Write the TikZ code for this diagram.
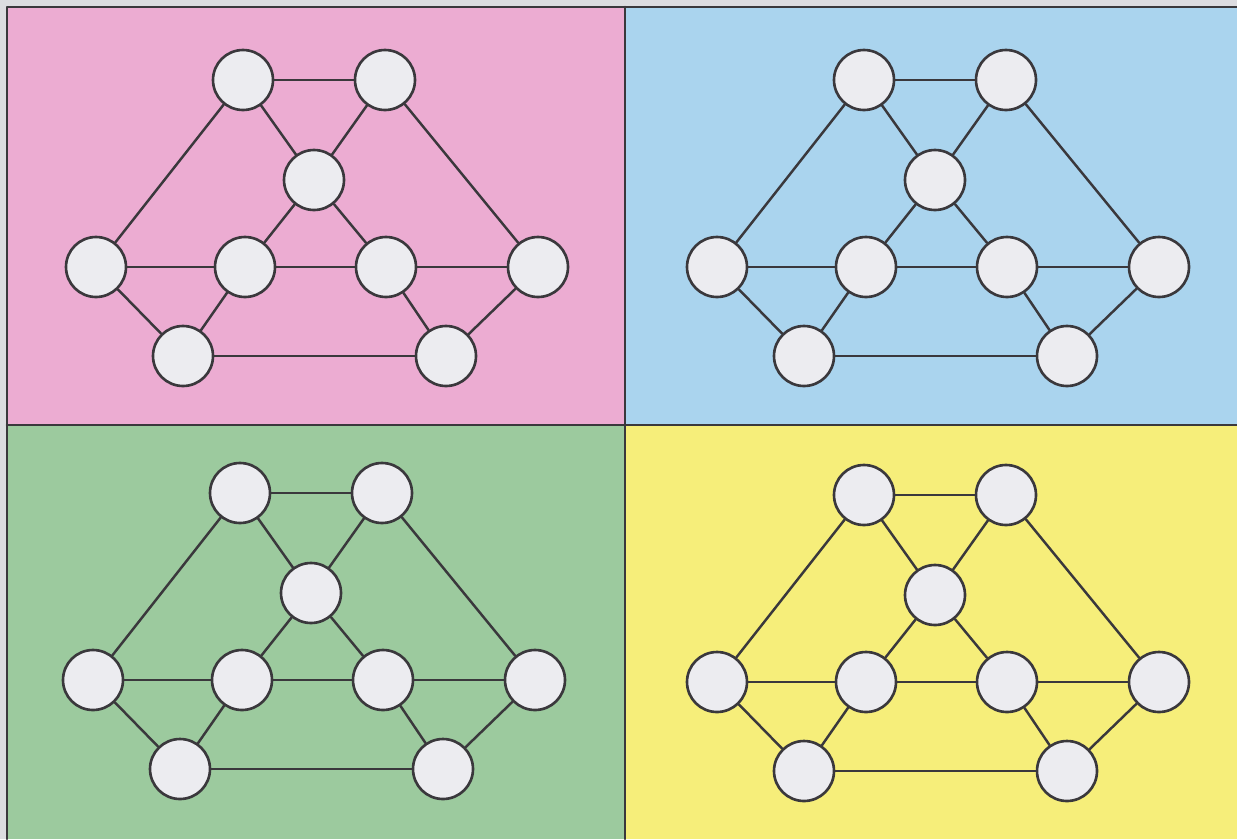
\documentclass[tikz,border=0pt]{standalone}
\usetikzlibrary{positioning}

\definecolor{panelpink}{RGB}{236,172,210}
\definecolor{panelblue}{RGB}{170,212,238}
\definecolor{panelgreen}{RGB}{156,202,158}
\definecolor{panelyellow}{RGB}{246,238,122}
\definecolor{margingrey}{RGB}{220,220,224}
\definecolor{inkgrey}{RGB}{58,56,60}
\definecolor{discfill}{RGB}{236,236,240}

\tikzset{
  disc/.style={circle, draw=inkgrey, line width=1.5pt, fill=discfill, minimum size=1.2cm, inner sep=0pt},
  link/.style={draw=inkgrey, line width=1.4pt},
  frame/.style={draw=inkgrey, line width=1.5pt}
}

\begin{document}
\begin{tikzpicture}[x=0.02cm, y=-0.02cm, line cap=round, line join=round]
  \useasboundingbox (0,0) rectangle (1237,839);
  \fill[margingrey] (0,0) rectangle (1237,839);

  % four coloured panels
  \fill[panelpink] (7,7) rectangle (625,425);
  \fill[panelblue] (625,7) rectangle (1237,425);
  \fill[panelgreen] (7,425) rectangle (625,839);
  \fill[panelyellow] (625,425) rectangle (1237,839);
  \draw[frame] (7,839) -- (7,7) -- (1237,7);
  \draw[frame] (625,7) -- (625,839);
  \draw[frame] (7,425) -- (1237,425);

  % the same graph in every panel
  \foreach \dx/\dy in {0/0, 621/0, -3/413, 621/415} {
    \begin{scope}[shift={(\dx,\dy)}]
      \node[disc] (a) at (243,80) {};
      \node[disc] (b) at (385,80) {};
      \node[disc] (c) at (314,180) {};
      \node[disc] (d) at (96,267) {};
      \node[disc] (e) at (245,267) {};
      \node[disc] (f) at (386,267) {};
      \node[disc] (g) at (538,267) {};
      \node[disc] (h) at (183,356) {};
      \node[disc] (i) at (446,356) {};

      \draw[link] (a) -- (b);
      \draw[link] (a) -- (d);
      \draw[link] (a) -- (c);
      \draw[link] (b) -- (c);
      \draw[link] (b) -- (g);
      \draw[link] (c) -- (e);
      \draw[link] (c) -- (f);
      \draw[link] (d) -- (e);
      \draw[link] (e) -- (f);
      \draw[link] (f) -- (g);
      \draw[link] (d) -- (h);
      \draw[link] (e) -- (h);
      \draw[link] (h) -- (i);
      \draw[link] (f) -- (i);
      \draw[link] (g) -- (i);
    \end{scope}
  }
\end{tikzpicture}
\end{document}
